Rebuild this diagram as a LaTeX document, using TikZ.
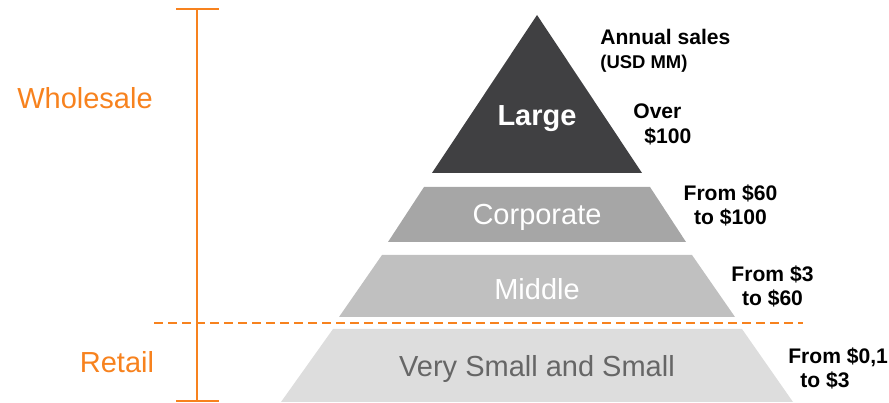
\documentclass[tikz,border=0pt]{standalone}
\usepackage{fontspec}
\setmainfont{Liberation Sans}
\usepackage{xcolor}
\usetikzlibrary{positioning}

\definecolor{segorange}{RGB}{247,130,30}
\definecolor{tierlarge}{RGB}{64,64,66}
\definecolor{tiercorp}{RGB}{166,166,166}
\definecolor{tiermid}{RGB}{192,192,192}
\definecolor{tiersmall}{RGB}{221,221,221}

\begin{document}
\begin{tikzpicture}[
  tierlbl/.style={font=\fontsize{16.5}{19}\selectfont, text=white, inner sep=0pt, anchor=base},
  amount/.style={font=\bfseries\fontsize{12}{13.9}\selectfont, align=center, inner sep=0pt},
  group/.style={font=\fontsize{16.5}{19}\selectfont, text=segorange, inner sep=0pt, anchor=base},
  brace/.style={draw=segorange, line width=0.85pt},
  split/.style={draw=segorange, line width=0.85pt, dash pattern=on 0.18cm off 0.1cm}
]
\useasboundingbox (0,0) rectangle (17.78,8.06);

% Pyramid tiers, top to bottom
\fill[tierlarge] (8.64,4.60) -- (10.74,7.76) -- (12.84,4.60) -- cycle;
\fill[tiercorp]  (7.76,3.22) -- (8.48,4.32) -- (13.00,4.32) -- (13.72,3.22) -- cycle;
\fill[tiermid]   (6.78,1.72) -- (7.64,2.96) -- (13.84,2.96) -- (14.70,1.72) -- cycle;
\fill[tiersmall] (5.62,0.02) -- (6.66,1.48) -- (14.84,1.48) -- (15.86,0.02) -- cycle;

% Tier names
\node[tierlbl, font=\bfseries\fontsize{16.5}{19}\selectfont] (large) at (10.74,5.54) {Large};
\node[tierlbl] (corp)  at (10.74,3.56) {Corporate};
\node[tierlbl] (mid)   at (10.74,2.07) {Middle};
\node[tierlbl, text=black!60] (small) at (10.74,0.53) {Very Small and Small};

% Sales ranges
\node[amount, align=left, anchor=west] (hdr) at (12.00,7.05)
  {Annual sales\\{\fontsize{10.5}{13.9}\selectfont (USD MM)}};
\node[amount, align=left, anchor=west] (over) at (12.66,5.57) {Over\\\hspace{0.22cm}\$100};
\node[amount] (r60)  at (14.61,3.95) {From \$60\\to \$100};
\node[amount] (r3)   at (15.45,2.33) {From \$3\\to \$60};
\node[amount, align=left, anchor=west] (r01) at (15.76,0.69) {From \$0,1\\\hspace{0.24cm}to \$3};

% Segment bracket and divider
\coordinate (btop) at (3.94,7.88);
\coordinate (bbot) at (3.94,0.04);
\draw[brace] (btop) -- (bbot);
\draw[brace] ([xshift=-0.42cm]btop) -- ([xshift=0.44cm]btop);
\draw[brace] ([xshift=-0.42cm]bbot) -- ([xshift=0.44cm]bbot);
\coordinate (dl) at (3.08,1.60);
\coordinate (dr) at (16.06,1.60);
\draw[split] (dl) -- (dr);

\node[group] (whole)  at (1.70,5.88) {Wholesale};
\node[group] (retail) at (2.34,0.60) {Retail};
\end{tikzpicture}
\end{document}
